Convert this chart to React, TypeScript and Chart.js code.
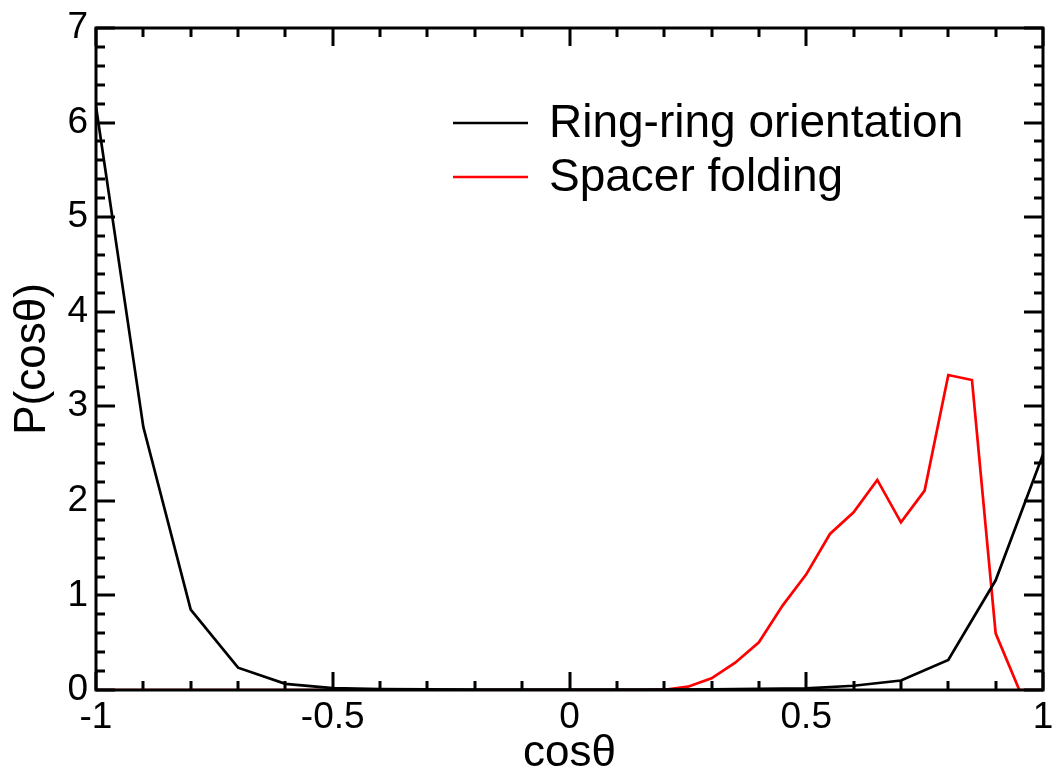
import React, { useEffect, useRef } from "react";
import { Chart, registerables } from "chart.js";

Chart.register(...registerables);

// Ring-ring orientation: cosθ from -1 to 1 step 0.1
const ringX = [-1, -0.9, -0.8, -0.7, -0.6, -0.5, -0.4, -0.3, -0.2, -0.1, 0, 0.1, 0.2, 0.3, 0.4, 0.5, 0.6, 0.7, 0.8, 0.9, 1];
const ringY = [6.17, 2.78, 0.85, 0.236, 0.065, 0.02, 0.01, 0.006, 0.004, 0.003, 0.003, 0.004, 0.005, 0.008, 0.012, 0.018, 0.045, 0.1, 0.317, 1.16, 2.49];

// Spacer folding: cosθ from -1 to 1 step 0.05
const spacerX = [
  -1, -0.95, -0.9, -0.85, -0.8, -0.75, -0.7, -0.65, -0.6, -0.55, -0.5, -0.45, -0.4, -0.35, -0.3, -0.25, -0.2, -0.15, -0.1, -0.05,
  0, 0.05, 0.1, 0.15, 0.2, 0.25, 0.3, 0.35, 0.4, 0.45, 0.5, 0.55, 0.6, 0.65, 0.7, 0.75, 0.8, 0.85, 0.9, 0.95, 1,
];
const spacerY = [
  0, 0, 0, 0, 0, 0, 0, 0, 0, 0, 0, 0, 0, 0, 0, 0, 0, 0, 0, 0,
  0, 0, 0, 0, 0.003, 0.035, 0.124, 0.289, 0.504, 0.892, 1.223, 1.65, 1.879, 2.221, 1.773, 2.108, 3.331, 3.278, 0.599, 0, 0,
];

const seriesLabels = ["Ring-ring orientation", "Spacer folding"];
const seriesColors = ["#000000", "#ff0000"];
const xTitle = "cosθ";
const yTitle = "P(cosθ)";

const FONT = "'Liberation Sans', Arial, Helvetica, sans-serif";

const framePlugin = {
  id: "frameTicks",
  afterDatasetsDraw(chart: any) {
    const { ctx, chartArea } = chart;
    const { left, right, top, bottom } = chartArea;
    const xs = chart.scales.x;
    const ys = chart.scales.y;
    ctx.save();
    ctx.strokeStyle = "#000";
    ctx.lineWidth = 3;
    ctx.lineCap = "butt";
    ctx.beginPath();
    for (let i = 0; i <= 20; i++) {
      const v = -1 + i * 0.1;
      const px = Math.round(xs.getPixelForValue(v));
      const len = i % 5 === 0 ? 18 : 9;
      ctx.moveTo(px, bottom);
      ctx.lineTo(px, bottom - len);
      ctx.moveTo(px, top);
      ctx.lineTo(px, top + len);
    }
    for (let i = 0; i <= 35; i++) {
      const v = i * 0.2;
      const py = Math.round(ys.getPixelForValue(v));
      const len = i % 5 === 0 ? 19 : 9;
      ctx.moveTo(left, py);
      ctx.lineTo(left + len, py);
      ctx.moveTo(right, py);
      ctx.lineTo(right - len, py);
    }
    ctx.stroke();
    ctx.strokeRect(left, top, right - left, bottom - top);

    // legend
    ctx.font = "46px " + FONT;
    ctx.textBaseline = "alphabetic";
    ctx.textAlign = "left";
    const lineY = [123, 177];
    const textY = [137, 191];
    chart.data.datasets.forEach((ds: any, i: number) => {
      ctx.strokeStyle = ds.borderColor;
      ctx.lineWidth = 2.7;
      ctx.beginPath();
      ctx.moveTo(453, lineY[i]);
      ctx.lineTo(528, lineY[i]);
      ctx.stroke();
      ctx.fillStyle = "#000";
      ctx.fillText(ds.label, 549, textY[i]);
    });
    ctx.restore();
  },
};

export default function App() {
  const ref = useRef<HTMLCanvasElement>(null);
  useEffect(() => {
    if (!ref.current) return;
    const chart = new Chart(ref.current, {
      type: "line",
      data: {
        datasets: [
          {
            label: seriesLabels[0],
            data: ringX.map((x, i) => ({ x, y: ringY[i] })),
            borderColor: seriesColors[0],
            borderWidth: 2.7,
            pointRadius: 0,
            tension: 0,
          },
          {
            label: seriesLabels[1],
            data: spacerX.map((x, i) => ({ x, y: spacerY[i] })),
            borderColor: seriesColors[1],
            borderWidth: 2.7,
            pointRadius: 0,
            tension: 0,
          },
        ],
      },
      options: {
        animation: false,
        responsive: false,
        maintainAspectRatio: false,
        layout: { padding: { top: 28, right: 15, left: 0, bottom: 0 } },
        plugins: { legend: { display: false }, tooltip: { enabled: false } },
        scales: {
          x: {
            type: "linear",
            min: -1,
            max: 1,
            grid: { display: false, drawTicks: false },
            border: { display: false },
            ticks: {
              stepSize: 0.5,
              autoSkip: false,
              maxRotation: 0,
              padding: 6,
              color: "#000",
              font: { family: FONT, size: 37 },
              callback: (v: any) => String(v),
            },
            title: {
              display: true,
              text: xTitle,
              color: "#000",
              font: { family: FONT, size: 44, lineHeight: 1 },
              padding: { top: 0, bottom: 0 },
            },
            afterFit: (scale: any) => {
              scale.height = 86;
              scale.paddingLeft = 0;
              scale.paddingRight = 0;
            },
          },
          y: {
            type: "linear",
            min: 0,
            max: 7,
            grid: { display: false, drawTicks: false },
            border: { display: false },
            ticks: {
              stepSize: 1,
              padding: 8,
              color: "#000",
              font: { family: FONT, size: 37 },
              callback: (v: any) => String(v),
            },
            title: {
              display: true,
              text: yTitle,
              color: "#000",
              font: { family: FONT, size: 44, lineHeight: 1 },
              padding: { top: 11, bottom: 0 },
            },
            afterFit: (scale: any) => {
              scale.width = 96;
              scale.paddingTop = 0;
              scale.paddingBottom = 0;
            },
          },
        },
      },
      plugins: [framePlugin],
    });
    return () => chart.destroy();
  }, []);
  return (
    <div style={{ position: "fixed", left: 0, top: 0, width: 1058, height: 776, background: "#fff" }}>
      <canvas ref={ref} width={1058} height={776} style={{ width: 1058, height: 776 }} />
    </div>
  );
}
